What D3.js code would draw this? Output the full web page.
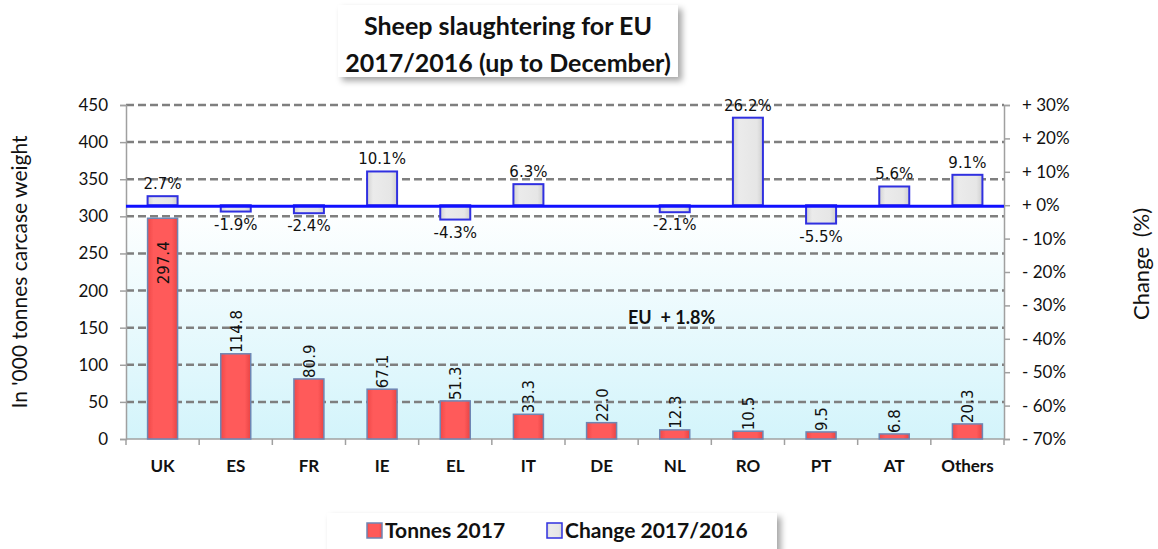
<!DOCTYPE html>
<html>
<head>
<meta charset="utf-8">
<script src="https://cdn.jsdelivr.net/npm/d3@7"></script>
<style>
  body { margin: 0; background: #fff; }
  svg { display: block; font-family: Lato, "Open Sans", sans-serif; }
</style>
</head>
<body>
<svg id="chart" width="1158" height="549"></svg>
<script>
// data
var countries = ["UK", "ES", "FR", "IE", "EL", "IT", "DE", "NL", "RO", "PT", "AT", "Others"];
var tonnes2017 = [297.4, 114.8, 80.9, 67.1, 51.3, 33.3, 22.0, 12.3, 10.5, 9.5, 6.8, 20.3];
var change = [2.7, -1.9, -2.4, 10.1, -4.3, 6.3, null, -2.1, 26.2, -5.5, 5.6, 9.1];
var leftTicks = [0, 50, 100, 150, 200, 250, 300, 350, 400, 450];
var rightTicks = [30, 20, 10, 0, -10, -20, -30, -40, -50, -60, -70];
var titleLines = ["Sheep slaughtering for EU", "2017/2016 (up to December)"];
var euNote = "EU  + 1.8%";

var plot = {left: 126, right: 1004, top: 105, bottom: 439};

var svg = d3.select("#chart");
var defs = svg.append("defs");

// background gradient of plot area
var bg = defs.append("linearGradient").attr("id", "bgGrad")
  .attr("x1", 0).attr("y1", 0).attr("x2", 0).attr("y2", 1);
bg.append("stop").attr("offset", "0").attr("stop-color", "#ffffff");
bg.append("stop").attr("offset", "0.3").attr("stop-color", "#ffffff");
bg.append("stop").attr("offset", "1").attr("stop-color", "#d3f4fb");

var redGrad = defs.append("linearGradient").attr("id", "redGrad")
  .attr("x1", 0).attr("y1", 0).attr("x2", 1).attr("y2", 0);
redGrad.append("stop").attr("offset", "0").attr("stop-color", "#f04848");
redGrad.append("stop").attr("offset", "0.2").attr("stop-color", "#ff5a5a");
redGrad.append("stop").attr("offset", "0.8").attr("stop-color", "#ff5a5a");
redGrad.append("stop").attr("offset", "1").attr("stop-color", "#e84444");

var greyGrad = defs.append("linearGradient").attr("id", "greyGrad")
  .attr("x1", 0).attr("y1", 0).attr("x2", 1).attr("y2", 0);
greyGrad.append("stop").attr("offset", "0").attr("stop-color", "#d2d2d2");
greyGrad.append("stop").attr("offset", "0.2").attr("stop-color", "#ebebeb");
greyGrad.append("stop").attr("offset", "0.8").attr("stop-color", "#e6e6e6");
greyGrad.append("stop").attr("offset", "1").attr("stop-color", "#cfcfcf");

var shadow = defs.append("filter").attr("id", "shadow")
  .attr("x", "-5%").attr("y", "-10%").attr("width", "115%").attr("height", "140%");
shadow.append("feDropShadow").attr("dx", 4).attr("dy", 4).attr("stdDeviation", 3)
  .attr("flood-color", "#000").attr("flood-opacity", 0.35);

// scales
var x = d3.scaleBand().domain(countries).range([plot.left, plot.right]).paddingInner(0.59).paddingOuter(0.295);
var band = d3.scaleBand().domain(countries).range([plot.left, plot.right]);
var yL = d3.scaleLinear().domain([0, 450]).range([plot.bottom, plot.top]);
var yR = d3.scaleLinear().domain([-70, 30]).range([plot.bottom, plot.top]);

svg.append("rect")
  .attr("x", plot.left).attr("y", plot.top)
  .attr("width", plot.right - plot.left).attr("height", plot.bottom - plot.top)
  .attr("fill", "url(#bgGrad)");

// gridlines
svg.append("g").selectAll("line").data(leftTicks.filter(d => d > 0)).join("line")
  .attr("x1", plot.left).attr("x2", plot.right)
  .attr("y1", d => yL(d)).attr("y2", d => yL(d))
  .attr("stroke", "#7f7f7f").attr("stroke-width", 2.5).attr("stroke-dasharray", "8,4");

// left axis
var leftAxis = svg.append("g").attr("transform", "translate(" + plot.left + ",0)")
  .call(d3.axisLeft(yL).tickValues(leftTicks).tickSize(6).tickPadding(12));
leftAxis.select(".domain").attr("stroke", "#a0a0a0").attr("stroke-width", 1.5);
leftAxis.selectAll(".tick line").attr("stroke", "#a0a0a0").attr("stroke-width", 1.5);
leftAxis.selectAll("text").attr("font-size", 17).attr("fill", "#111").attr("font-family", "Lato");

// right axis
var rightAxis = svg.append("g").attr("transform", "translate(" + plot.right + ",0)")
  .call(d3.axisRight(yR).tickValues(rightTicks).tickSize(6).tickPadding(12)
    .tickFormat(d => d >= 0 ? "+ " + d + "%" : "- " + Math.abs(d) + "%"));
rightAxis.select(".domain").attr("stroke", "#a0a0a0").attr("stroke-width", 1.5);
rightAxis.selectAll(".tick line").attr("stroke", "#a0a0a0").attr("stroke-width", 1.5);
rightAxis.selectAll("text").attr("font-size", 17).attr("fill", "#111").attr("font-family", "Lato");

// bottom axis
var bottomAxis = svg.append("g").attr("transform", "translate(0," + plot.bottom + ")");
bottomAxis.append("line").attr("x1", plot.left).attr("x2", plot.right)
  .attr("stroke", "#a0a0a0").attr("stroke-width", 1.5);
bottomAxis.selectAll("line.tk").data(countries.concat(["_end"])).join("line").attr("class", "tk")
  .attr("x1", (d, i) => plot.left + i * band.bandwidth()).attr("x2", (d, i) => plot.left + i * band.bandwidth())
  .attr("y1", 0).attr("y2", 6).attr("stroke", "#a0a0a0").attr("stroke-width", 1.5);
bottomAxis.selectAll("text").data(countries).join("text")
  .attr("x", d => x(d) + x.bandwidth() / 2).attr("y", 33)
  .attr("text-anchor", "middle").attr("font-size", 17).attr("font-weight", "bold").attr("fill", "#111")
  .text(d => d);

// tonnes bars
var tData = countries.map((c, i) => ({c: c, v: tonnes2017[i]}));
svg.append("g").selectAll("rect").data(tData).join("rect")
  .attr("x", d => x(d.c)).attr("y", d => yL(d.v))
  .attr("width", x.bandwidth()).attr("height", d => yL(0) - yL(d.v))
  .attr("fill", "url(#redGrad)").attr("stroke", "#6e86b4").attr("stroke-width", 1.5);

svg.append("g").selectAll("text").data(tData).join("text")
  .attr("transform", d => {
    var cx = x(d.c) + x.bandwidth() / 2 + 6;
    var y0 = d.v > 250 ? yL(d.v) + 66 : yL(d.v) - 1;
    return "translate(" + cx + "," + y0 + ") rotate(-90)";
  })
  .attr("font-family", "DejaVu Sans").attr("font-size", 15).attr("fill", "#111")
  .text(d => d.v.toFixed(1));

// change bars (secondary axis)
var cData = countries.map((c, i) => ({c: c, v: change[i]})).filter(d => d.v !== null);
svg.append("g").selectAll("rect").data(cData).join("rect")
  .attr("x", d => x(d.c)).attr("y", d => yR(Math.max(0, d.v)))
  .attr("width", x.bandwidth()).attr("height", d => Math.abs(yR(d.v) - yR(0)))
  .attr("fill", "url(#greyGrad)").attr("stroke", "#3030e0").attr("stroke-width", 2);

// zero line
svg.append("line")
  .attr("x1", plot.left).attr("x2", plot.right)
  .attr("y1", yR(0) + 1).attr("y2", yR(0) + 1)
  .attr("stroke", "#1010ff").attr("stroke-width", 3);

svg.append("g").selectAll("text").data(cData).join("text")
  .attr("x", d => x(d.c) + x.bandwidth() / 2)
  .attr("y", d => d.v >= 0 ? yR(d.v) - 7 : yR(d.v) + 18)
  .attr("text-anchor", "middle")
  .attr("font-family", "DejaVu Sans").attr("font-size", 15).attr("fill", "#111")
  .text(d => d.v.toFixed(1) + "%");

// EU note
svg.append("text").attr("x", 628).attr("y", 324)
  .attr("font-size", 18).attr("font-weight", "bold").attr("fill", "#111")
  .attr("xml:space", "preserve").style("white-space", "pre")
  .text(euNote);

// axis titles
svg.append("text")
  .attr("transform", "translate(27," + (plot.top + plot.bottom) / 2 + ") rotate(-90)")
  .attr("text-anchor", "middle").attr("font-size", 21).attr("fill", "#111")
  .text("In '000 tonnes carcase weight");
svg.append("text")
  .attr("transform", "translate(1149,264) rotate(-90)")
  .attr("text-anchor", "middle").attr("font-size", 22).attr("fill", "#111")
  .attr("word-spacing", 4)
  .text("Change (%)");

// title box
var tb = svg.append("g");
tb.append("rect").attr("x", 338).attr("y", 5).attr("width", 340).attr("height", 72)
  .attr("fill", "#fff").attr("filter", "url(#shadow)");
tb.selectAll("text").data(titleLines).join("text")
  .attr("x", 508).attr("y", (d, i) => 35 + i * 37)
  .attr("text-anchor", "middle").attr("font-size", 25).attr("font-weight", "bold").attr("fill", "#111")
  .text(d => d);

// legend
var lg = svg.append("g");
lg.append("rect").attr("x", 327).attr("y", 513).attr("width", 450).attr("height", 50)
  .attr("fill", "#fff").attr("filter", "url(#shadow)");
var legendItems = [
  {label: "Tonnes 2017", fill: "url(#redGrad)", stroke: "#6e86b4", x: 367},
  {label: "Change 2017/2016", fill: "url(#greyGrad)", stroke: "#3030e0", x: 547}
];
legendItems.forEach(function(it) {
  lg.append("rect").attr("x", it.x).attr("y", 523).attr("width", 15).attr("height", 15)
    .attr("fill", it.fill).attr("stroke", it.stroke).attr("stroke-width", 1.5);
  lg.append("text").attr("x", it.x + 18).attr("y", 538)
    .attr("font-size", 21).attr("font-weight", "bold").attr("fill", "#111")
    .text(it.label);
});
</script>
</body>
</html>
